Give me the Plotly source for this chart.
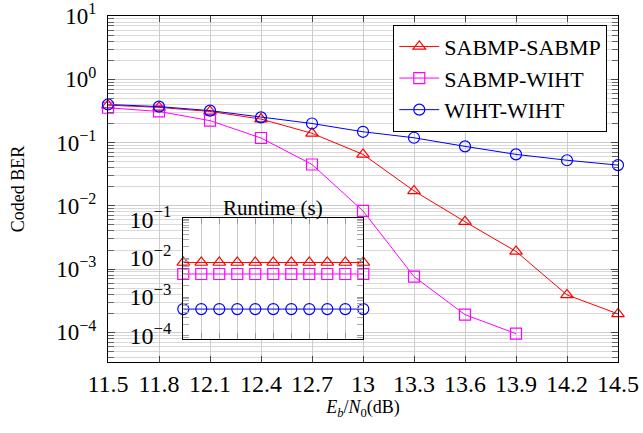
import plotly.graph_objects as go

# ---- data ----
ebn0 = [11.5, 11.8, 12.1, 12.4, 12.7, 13.0, 13.3, 13.6, 13.9, 14.2, 14.5]
x_ticklabels = ["11.5", "11.8", "12.1", "12.4", "12.7", "13", "13.3", "13.6", "13.9", "14.2", "14.5"]

ber_sabmp_sabmp = [0.39, 0.36, 0.31, 0.235, 0.14, 0.065, 0.0172, 0.0056, 0.0019, 0.00039, 0.000195]
ber_sabmp_wiht = [0.355, 0.31, 0.222, 0.118, 0.045, 0.0083, 0.00076, 0.00019, 0.000095]
ber_wiht_wiht = [0.40, 0.37, 0.32, 0.25, 0.20, 0.148, 0.119, 0.087, 0.065, 0.0525, 0.044]

runtime_sabmp_sabmp = [0.0077] * 11
runtime_sabmp_wiht = [0.0039] * 11
runtime_wiht_wiht = [0.00049] * 11

y_tickvals = [10, 1, 0.1, 0.01, 0.001, 0.0001]
y_ticktext = ["10<sup>1</sup>", "10<sup>0</sup>", "10<sup>\u22121</sup>", "10<sup>\u22122</sup>",
              "10<sup>\u22123</sup>", "10<sup>\u22124</sup>"]
inset_tickvals = [0.1, 0.01, 0.001, 0.0001]
inset_ticktext = ["10<sup>\u22121</sup>", "10<sup>\u22122</sup>", "10<sup>\u22123</sup>", "10<sup>\u22124</sup>"]

names = ["SABMP-SABMP", "SABMP-WIHT", "WIHT-WIHT"]
colors = ["#ff0000", "#ff00ff", "#0000ff"]
symbols = ["triangle-up-open", "square-open", "circle-open"]

FONT = "Liberation Serif, serif"

fig = go.Figure()

main_series = [ber_sabmp_sabmp, ber_sabmp_wiht, ber_wiht_wiht]
for name, col, sym, ys in zip(names, colors, symbols, main_series):
    fig.add_trace(go.Scatter(
        x=ebn0[:len(ys)], y=ys, name=name, mode="lines+markers",
        line=dict(color=col, width=1),
        marker=dict(symbol=sym, size=11, color=col, line=dict(width=1.2, color=col)),
        xaxis="x", yaxis="y", cliponaxis=False,
    ))

inset_series = [runtime_sabmp_sabmp, runtime_sabmp_wiht, runtime_wiht_wiht]
for name, col, sym, ys in zip(names, colors, symbols, inset_series):
    fig.add_trace(go.Scatter(
        x=ebn0, y=ys, name=name, mode="lines+markers", showlegend=False,
        line=dict(color=col, width=1),
        marker=dict(symbol=sym, size=11, color=col, line=dict(width=1.2, color=col)),
        xaxis="x2", yaxis="y2", cliponaxis=False,
    ))

grid_col = "#cccccc"
minor_col = "#d9d9d9"
tickfont = dict(family=FONT, size=24, color="black")
ytickfont = dict(family=FONT, size=23, color="black")

fig.update_layout(
    width=643, height=433,
    margin=dict(l=108, r=25, t=16, b=71, autoexpand=False),
    paper_bgcolor="white", plot_bgcolor="white",
    font=dict(family=FONT, color="black", size=22),
    showlegend=True,
    legend=dict(
        x=0.979, y=0.975, xanchor="right", yanchor="top",
        bgcolor="white", bordercolor="black", borderwidth=1,
        font=dict(family=FONT, size=22),
        tracegroupgap=0, itemwidth=40,
    ),
    xaxis=dict(
        domain=[0, 1], anchor="y", automargin=False,
        range=[11.5, 14.5], tickmode="array", tickvals=ebn0, ticktext=x_ticklabels,
        ticks="inside", ticklen=6, tickcolor="#444", showline=True, linecolor="black",
        linewidth=1.2, mirror="ticks", showgrid=True, gridcolor=grid_col, gridwidth=1.2,
        zeroline=False, tickfont=tickfont, ticklabelstandoff=0, ticklabeloverflow="allow",
        title=dict(text="<i>E</i><sub><i>b</i></sub>/<i>N</i><sub>0</sub>(dB)",
                   font=dict(family=FONT, size=18), standoff=2),
    ),
    yaxis=dict(
        domain=[0, 1], anchor="x", type="log", automargin=False,
        range=[-4.47, 1.001], tickmode="array", tickvals=y_tickvals, ticktext=y_ticktext,
        ticks="inside", ticklen=7, tickcolor="#444", showline=True, linecolor="black",
        linewidth=1.2, mirror="ticks", showgrid=True, gridcolor=grid_col, gridwidth=1.2,
        zeroline=False, tickfont=ytickfont, ticklabelstandoff=6, ticklabeloverflow="allow",
        minor=dict(tickmode="linear", dtick="D1", ticks="inside", ticklen=6,
                   tickcolor="#666", showgrid=True, gridcolor=minor_col, gridwidth=1.2),
        title=dict(text="Coded BER", font=dict(family=FONT, size=18), standoff=26),
    ),
    xaxis2=dict(
        domain=[0.1476, 0.5006], anchor="y2", automargin=False,
        range=[11.5, 14.5], tickmode="array", tickvals=ebn0, showticklabels=False,
        ticks="inside", ticklen=6, tickcolor="#999", showline=True, linecolor="black",
        linewidth=1.2, mirror="ticks", showgrid=True, gridcolor=grid_col, gridwidth=1.2,
        zeroline=False,
    ),
    yaxis2=dict(
        domain=[0.0662, 0.4164], anchor="x2", type="log", automargin=False,
        range=[-4.08, -0.97], tickmode="array", tickvals=inset_tickvals, ticktext=inset_ticktext,
        ticks="inside", ticklen=6, tickcolor="#999", showline=True, linecolor="black",
        linewidth=1.2, mirror="ticks", showgrid=False, zeroline=False,
        tickfont=tickfont, ticklabelstandoff=6,
        minor=dict(tickmode="linear", dtick="D1", ticks="inside", ticklen=6,
                   tickcolor="#aaa", showgrid=False),
    ),
    annotations=[dict(
        text="Runtime (s)", xref="x2 domain", yref="y2 domain", x=0.5, y=1,
        xanchor="center", yanchor="bottom", showarrow=False, yshift=-4,
        font=dict(family=FONT, size=21),
    )],
)

fig.write_html("out.html", config={"displayModeBar": False},
               post_script="document.body.style.margin='0';")
